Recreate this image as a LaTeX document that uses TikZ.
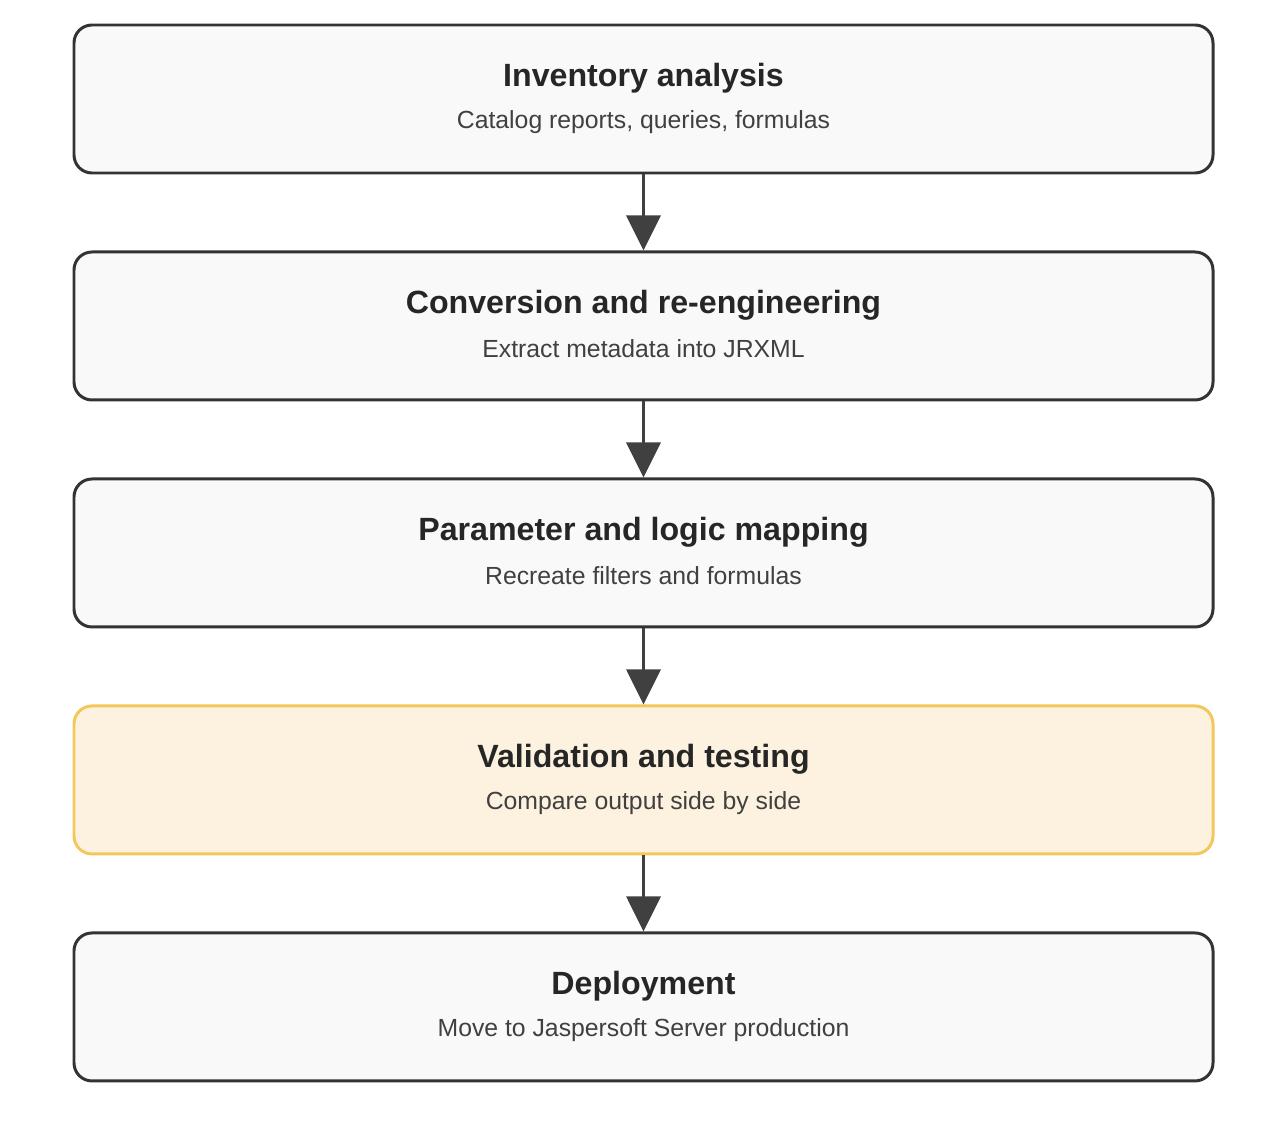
\documentclass[tikz,border=0pt]{standalone}
\usepackage{fontspec}
\setmainfont{Liberation Sans}
\usetikzlibrary{positioning,arrows.meta}
\definecolor{boxfill}{HTML}{F9F9F9}
\definecolor{boxline}{HTML}{333333}
\definecolor{hifill}{HTML}{FDF2DF}
\definecolor{hiline}{HTML}{F3C85A}
\definecolor{arrowcol}{HTML}{404040}
\tikzset{
  stage/.style={draw=boxline, fill=boxfill, line width=1.7pt, rounded corners=0.36cm,
    minimum width=22.78cm, minimum height=2.96cm, inner sep=0pt},
  histage/.style={stage, draw=hiline, fill=hifill},
  title/.style={font=\bfseries\fontsize{18.3}{22}\selectfont, text=black!85},
  sub/.style={font=\fontsize{14.1}{17}\selectfont, text=black!75},
  flow/.style={draw=arrowcol, line width=1.7pt, -{Triangle[length=0.7cm,width=0.68cm]}}
}
\begin{document}
\begin{tikzpicture}
  \useasboundingbox (0,0) rectangle (25.74,-22.72);

  \node[stage] (inv) at (12.87,-1.98) {};
  \node[stage, below=1.52cm of inv] (conv) {};
  \node[stage, below=1.52cm of conv] (param) {};
  \node[histage, below=1.52cm of param] (valid) {};
  \node[stage, below=1.52cm of valid] (deploy) {};

  \node[title] (invt) at ([yshift=0.42cm]inv.center) {Inventory analysis};
  \node[sub] (invs) at ([yshift=-0.46cm]inv.center) {Catalog reports, queries, formulas};
  \node[title] (convt) at ([yshift=0.42cm]conv.center) {Conversion and re-engineering};
  \node[sub] (convs) at ([yshift=-0.46cm]conv.center) {Extract metadata into JRXML};
  \node[title] (paramt) at ([yshift=0.42cm]param.center) {Parameter and logic mapping};
  \node[sub] (params) at ([yshift=-0.46cm]param.center) {Recreate filters and formulas};
  \node[title] (validt) at ([yshift=0.42cm]valid.center) {Validation and testing};
  \node[sub] (valids) at ([yshift=-0.46cm]valid.center) {Compare output side by side};
  \node[title] (deployt) at ([yshift=0.42cm]deploy.center) {Deployment};
  \node[sub] (deploys) at ([yshift=-0.46cm]deploy.center) {Move to Jaspersoft Server production};

  \draw[flow] (inv) -- (conv);
  \draw[flow] (conv) -- (param);
  \draw[flow] (param) -- (valid);
  \draw[flow] (valid) -- (deploy);
\end{tikzpicture}
\end{document}
